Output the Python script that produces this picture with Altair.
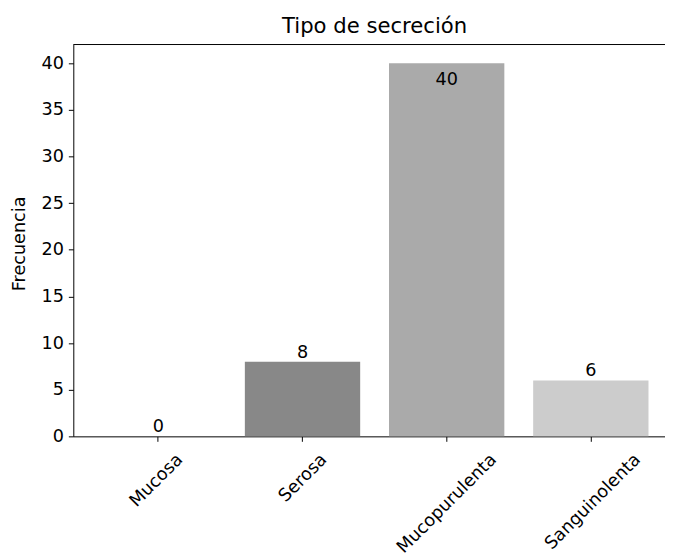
import altair as alt
import pandas as pd

# ---- data ----
categorias = ["Mucosa", "Serosa", "Mucopurulenta", "Sanguinolenta"]
frecuencias = [0, 8, 40, 6]
colores = ["#666666", "#888888", "#aaaaaa", "#cccccc"]
y_ticks = [0, 5, 10, 15, 20, 25, 30, 35, 40]
y_max = 42

df = pd.DataFrame({"Tipo": categorias, "Frecuencia": frecuencias})

FONT = "DejaVu Sans"
FS = 17.8      # tick / label font size
FS_T = 21.4    # title font size

x_scale = alt.Scale(domain=categorias, range=[0, 609], paddingInner=0.2, paddingOuter=0.19)
y_scale = alt.Scale(domain=[0, y_max], nice=False, zero=True)

x_enc = alt.X("Tipo:N", sort=categorias, scale=x_scale, title=None,
              axis=alt.Axis(labels=False, ticks=True, tickSize=5, tickWidth=1,
                            tickColor="black", domainColor="black", domainWidth=1,
                            grid=False))
y_enc = alt.Y("Frecuencia:Q", scale=y_scale, title="Frecuencia",
              axis=alt.Axis(values=y_ticks, tickSize=5, tickWidth=1, tickColor="black",
                            domainColor="black", domainWidth=1, grid=False,
                            labelFontSize=FS, labelFont=FONT, labelColor="black",
                            labelPadding=5,
                            titleFontSize=FS, titleFont=FONT, titleColor="black",
                            titleFontWeight="normal", titleAngle=270,
                            titleAlign="center", titleBaseline="alphabetic",
                            titleX=-49, titleY=201))

base = alt.Chart(df)

bars = base.mark_bar().encode(
    x=x_enc,
    y=y_enc,
    color=alt.Color("Tipo:N", scale=alt.Scale(domain=categorias, range=colores), legend=None),
)

lbl_low = base.transform_joinaggregate(mx="max(Frecuencia)").transform_filter(
    "datum.Frecuencia < datum.mx"
).mark_text(baseline="alphabetic", dy=-4, fontSize=FS, font=FONT, color="black").encode(
    x=alt.X("Tipo:N", sort=categorias, scale=x_scale),
    y=alt.Y("Frecuencia:Q", scale=y_scale),
    text="Frecuencia:Q",
)

lbl_top = base.transform_joinaggregate(mx="max(Frecuencia)").transform_filter(
    "datum.Frecuencia == datum.mx"
).mark_text(baseline="alphabetic", dy=22, fontSize=FS, font=FONT, color="black").encode(
    x=alt.X("Tipo:N", sort=categorias, scale=x_scale),
    y=alt.Y("Frecuencia:Q", scale=y_scale),
    text="Frecuencia:Q",
)

# rotated category labels, centred under their ticks like matplotlib's rotation=45
xlabels = base.mark_text(
    angle=315, align="right", baseline="middle",
    dx=alt.ExprRef("length(datum.Tipo) * 2.59 - 14.85"),
    dy=alt.ExprRef("length(datum.Tipo) * 2.59 + 14.85"),
    fontSize=FS, font=FONT, color="black"
).encode(
    x=alt.X("Tipo:N", sort=categorias, scale=x_scale),
    y=alt.datum(0),
    text="Tipo:N",
)

top_spine = alt.Chart(pd.DataFrame({"t": [y_max]})).mark_rule(color="black", strokeWidth=1).encode(
    y=alt.Y("t:Q", scale=y_scale)
)

chart = alt.layer(bars, lbl_low, lbl_top, xlabels, top_spine).properties(
    width=598,
    height=396,
    autosize=alt.AutoSizeParams(type="none"),
    padding={"left": 66, "top": 34, "right": 0, "bottom": 118},
    title=alt.TitleParams("Tipo de secreción", font=FONT, fontSize=FS_T,
                          fontWeight="normal", color="black", anchor="middle",
                          dx=5.5, offset=7),
).configure_view(stroke=None)

chart.save("out.html", embed_options={"renderer": "svg", "actions": False})
